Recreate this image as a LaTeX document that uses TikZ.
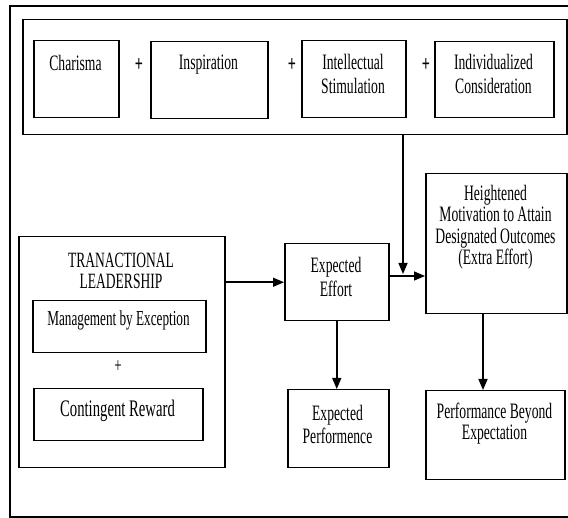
\documentclass[tikz,border=0pt]{standalone}
\usepackage{fontspec}
\setmainfont{Liberation Serif}[FakeStretch=0.62]
\usetikzlibrary{arrows.meta,calc}
\begin{document}
\begin{tikzpicture}[x=1pt,y=-1pt,
  box/.style={draw, line width=1.5pt, inner sep=0pt, anchor=north west},
  txt/.style={inner sep=0pt, align=center, anchor=north, font=\fontsize{22}{24}\selectfont},
  plus/.style={inner sep=0pt, font=\fontsize{23}{24}\selectfont\bfseries},
  flow/.style={line width=1.5pt, -{Triangle[length=11pt,width=9pt]}},
  link/.style={line width=1.5pt}]
\useasboundingbox (0,0) rectangle (568,518);

% outer frame (open to the right)
\draw[link] (568,6) -- (10,6) -- (10,517) -- (568,517);

% transformational factors
\node[box, minimum width=544, minimum height=115] (group) at (22,19) {};
\node[box, minimum width=85, minimum height=77] (charisma) at (33,40) {};
\node[box, minimum width=117, minimum height=77] (inspiration) at (150,41) {};
\node[box, minimum width=104, minimum height=77] (intellectual) at (301,40) {};
\node[box, minimum width=119, minimum height=76] (individual) at (434,41) {};
\node[txt] (tcharisma) at (75.5,55) {Charisma};
\node[txt] (tinspiration) at (208.5,55) {Inspiration};
\node[txt] (tintellectual) at (353,54) {Intellectual\\Stimulation};
\node[txt] (tindividual) at (493.5,54) {Individualized\\Consideration};
\node[plus] (p1) at (139,65) {+};
\node[plus] (p2) at (292,65) {+};
\node[plus] (p3) at (426,65) {+};

% transactional leadership
\node[box, minimum width=206, minimum height=231] (trans) at (18,236) {};
\node[txt, font=\fontsize{21.8}{21}\selectfont] (ttrans) at (121,252.5) {TRANACTIONAL\\LEADERSHIP};
\node[box, minimum width=173, minimum height=52] (mbe) at (32,300) {};
\node[txt, anchor=base, font=\fontsize{21.3}{22}\selectfont] (tmbe) at (118.5,326) {Management by Exception};
\node[inner sep=0pt, font=\fontsize{21}{22}\selectfont] (p4) at (118,367) {+};
\node[box, minimum width=169, minimum height=52] (cr) at (33,388) {};
\node[txt, anchor=base, font=\fontsize{23.7}{24}\selectfont] (tcr) at (117.5,417) {Contingent Reward};

% outcomes
\node[box, minimum width=104, minimum height=77] (ee) at (284,243) {};
\node[txt] (tee) at (336,257) {Expected\\Effort};
\node[box, minimum width=141, minimum height=140] (hm) at (425,173) {};
\node[txt, font=\fontsize{22}{21.5}\selectfont] (thm) at (495.5,185) {Heightened\\Motivation to Attain\\Designated Outcomes\\(Extra Effort)};
\node[box, minimum width=101, minimum height=78] (ep) at (287,389) {};
\node[txt, font=\fontsize{22}{23}\selectfont] (tep) at (337.5,405) {Expected\\Performence};
\node[box, minimum width=139, minimum height=89] (pb) at (425,390) {};
\node[txt, font=\fontsize{22}{21}\selectfont] (tpb) at (494.5,403) {Performance Beyond\\Expectation};

% connectors
\coordinate (j) at (403,276);
\coordinate (k) at (483,0);
\draw[flow] (trans.east |- ee.west) -- (ee.west);
\draw[flow] (ee.east |- j) -- (hm.west |- j);
\draw[flow, shorten >=2pt] (group.south -| j) -- (j);
\draw[flow] (ee.south) -- (ee.south |- ep.north);
\draw[flow] (hm.south -| k) -- (pb.north -| k);
\end{tikzpicture}
\end{document}
